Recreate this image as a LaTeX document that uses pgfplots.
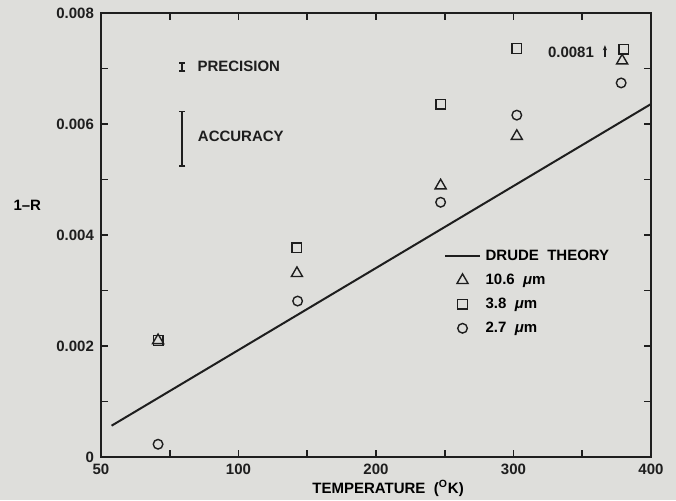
\documentclass[border=0pt]{standalone}
\usepackage{pgfplots}
\pgfplotsset{compat=1.18}
\usetikzlibrary{arrows.meta}
\usepackage{fontspec}
\setmainfont{Liberation Sans}
\definecolor{bggray}{RGB}{222,222,219}
\definecolor{ink}{RGB}{30,30,30}

\begin{document}
\begin{tikzpicture}[x=0.5pt,y=0.5pt,font=\fontsize{7.5}{9}\selectfont\bfseries]
\fill[bggray] (0,0) rectangle (676,500);
\useasboundingbox (0,0) rectangle (676,500);
\begin{axis}[
    at={(50.5pt,21.5pt)}, anchor=south west,
    scale only axis, width=275pt, height=222pt,
    xmin=0, xmax=400, ymin=0, ymax=0.008,
    scaled y ticks=false,
    clip=false,
    axis line style={ink, line width=1pt},
    xtick={0,50,...,400},
    xticklabels={50,,100,,200,,300,,400},
    ytick={0,0.001,...,0.008},
    yticklabels={0,,0.002,,0.004,,0.006,,0.008},
    major tick length=3.5pt,
    tick style={ink, line width=0.9pt},
    tick label style={ink},
    xlabel={TEMPERATURE\ \ (\textsuperscript{O}K)},
    xlabel style={at={(rel axis cs:0.522,-0.07)}, anchor=center},
    ylabel={1--R},
    ylabel style={at={(rel axis cs:-0.134,0.566)}, rotate=-90, anchor=center},
    legend style={draw=none, fill=none, inner sep=0pt,
        at={(axis cs:249.5,0.00384)}, anchor=north west,
        nodes={text height=5.8pt, text depth=1.2pt, inner sep=2.5pt}},
    legend cell align=left,
]
\addplot[ink, line width=1pt] coordinates {(7.7,0.000564) (400,0.00636)};
\addlegendentry{DRUDE\ \ THEORY}
\addplot[ink, only marks, mark=triangle, mark size=3.2pt, mark options={line width=0.7pt}]
    coordinates {(41.5,0.00210) (142.5,0.00331) (247,0.00489) (302.4,0.00578) (379,0.00714)};
\addlegendentry{10.6\ \ \textit{μ}m}
\addplot[ink, only marks, mark=square, mark size=2.4pt, mark options={line width=0.7pt}]
    coordinates {(41.5,0.00210) (142.5,0.00377) (247,0.00636) (302.4,0.00736) (380.3,0.00735)};
\addlegendentry{3.8\ \ \textit{μ}m}
\addplot[ink, only marks, mark=o, mark size=2.4pt, mark options={line width=0.7pt}]
    coordinates {(41.5,0.00023) (143,0.00281) (247,0.00459) (302.4,0.00616) (378.3,0.00674)};
\addlegendentry{2.7\ \ \textit{μ}m}
% precision and accuracy bars
\addplot[forget plot, draw=none, mark=none,
    error bars/.cd, y dir=both, y explicit,
    error bar style={ink, line width=0.8pt},
    error mark options={ink, rotate=90, mark size=1.6pt, line width=0.8pt}]
    coordinates {(59.1,0.00703) +- (0,0.00007) (59.1,0.005735) +- (0,0.000487)};
\node[anchor=west, inner sep=0pt, ink] at (axis cs:69.9,0.007032) {PRECISION};
\node[anchor=west, inner sep=0pt, ink] at (axis cs:70.2,0.005771) {ACCURACY};
\node[anchor=west, inner sep=0pt, ink] at (axis cs:324.8,0.0073) {0.0081};
\draw[ink, line width=0.6pt, -{Stealth[length=2.5pt,width=2pt]}] (axis cs:366.5,0.00721) -- (axis cs:366.5,0.00742);
\end{axis}
\end{tikzpicture}
\end{document}
